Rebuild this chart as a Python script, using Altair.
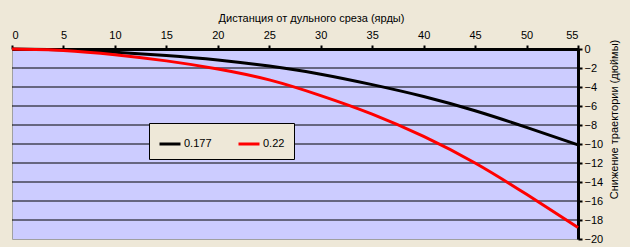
import altair as alt
import pandas as pd

distance = [0, 5, 10, 15, 20, 25, 30, 35, 40, 45, 50, 55]
drop_0177 = [0, -0.08, -0.33, -0.68, -1.15, -1.8, -2.65, -3.75, -5.0, -6.5, -8.25, -10.1]
drop_022 = [0, -0.15, -0.6, -1.25, -2.1, -3.25, -4.9, -6.85, -9.2, -12.0, -15.3, -18.8]
series = ["0.177", "0.22"]
x_ticks = list(range(0, 56, 5))
y_ticks = list(range(-20, 1, 2))
grid_values = list(range(-18, 0, 2))

rows = []
for d, a, b in zip(distance, drop_0177, drop_022):
    rows.append({"d": d, "v": a, "s": series[0]})
    rows.append({"d": d, "v": b, "s": series[1]})
df = pd.DataFrame(rows)
grid_df = pd.DataFrame({"v": grid_values})

FONT = "Liberation Sans"
BG = "#EEE8D8"

yscale = alt.Scale(domain=[-20, 0], nice=False)
xscale = alt.Scale(domain=[0, 55], nice=False)

yaxis = alt.Axis(orient="right", values=y_ticks, title="Снижение траектории (дюймы)",
                 grid=False,
                 domainColor="black", domainWidth=3, tickColor="black",
                 tickWidth=2, tickSize=4, labelPadding=2,
                 titleAngle=270, titleX=36, titleY=70, titleBaseline="middle",
                 titleAlign="center",
                 labelFont=FONT, titleFont=FONT, labelFontSize=11, titleFontSize=11,
                 titleFontWeight="normal", labelColor="black", titleColor="black")

grid = alt.Chart(grid_df).mark_rule(color="black", strokeWidth=1).encode(
    y=alt.Y("v:Q", scale=yscale, axis=yaxis)
)

lines = alt.Chart(df).mark_line(strokeWidth=3, interpolate="natural").encode(
    x=alt.X("d:Q", scale=xscale,
            axis=alt.Axis(orient="top", values=x_ticks, title="Дистанция от дульного среза (ярды)",
                          grid=False, domainColor="black", domainWidth=3, tickColor="black",
                          tickWidth=2, tickSize=4, labelPadding=5, titlePadding=6,
                          labelFont=FONT, titleFont=FONT, labelFontSize=11, titleFontSize=11,
                          titleFontWeight="normal", labelColor="black", titleColor="black",
                          titleX=299)),
    y=alt.Y("v:Q", scale=yscale, axis=yaxis),
    color=alt.Color("s:N", scale=alt.Scale(domain=series, range=["#000000", "#FF0000"]),
                    legend=alt.Legend(title=None, orient="none", legendX=137, legendY=74,
                                      direction="horizontal", fillColor=BG, strokeColor="black",
                                      padding=9, symbolType="stroke", symbolStrokeWidth=3,
                                      symbolSize=441, labelFont=FONT, labelFontSize=11,
                                      labelColor="black", labelOffset=2, columnPadding=20)),
)

chart = alt.layer(grid, lines).properties(
    width=566, height=190,
    background=BG,
    padding={"left": 12, "top": 49, "right": 52, "bottom": 8},
    autosize=alt.AutoSizeParams(type="none"),
).configure_view(fill="#CCCCFF", stroke="#A0A0A0", strokeWidth=1)

chart.save("out.html", embed_options={"renderer": "svg", "actions": False})
